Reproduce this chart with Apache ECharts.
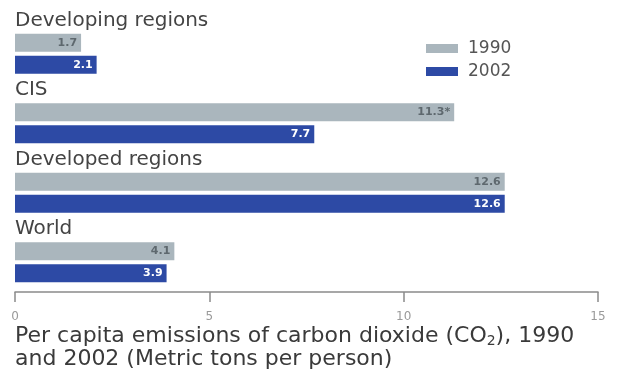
<!DOCTYPE html>
<html><head><meta charset="utf-8">
<script src="https://cdn.jsdelivr.net/npm/echarts@6/dist/echarts.min.js"></script>
<style>html,body{margin:0;padding:0;background:#fff}#c{width:641px;height:378px}</style>
</head><body><div id="c"></div>
<script>
const categories = ["Developing regions", "CIS", "Developed regions", "World"];
const values1990 = [1.7, 11.3, 12.6, 4.1];
const values2002 = [2.1, 7.7, 12.6, 3.9];
const notes1990 = ["", "*", "", ""];
const xTicks = [0, 5, 10, 15];

const chart = echarts.init(document.getElementById('c'));
const font = '"DejaVu Sans", sans-serif';
chart.setOption({
  animation: false,
  backgroundColor: '#fff',
  textStyle: { fontFamily: font },
  title: {
    left: 10, top: 320,
    text: 'Per capita emissions of carbon dioxide (CO{sub|2}), 1990\nand 2002 (Metric tons per person)',
    textStyle: {
      fontFamily: font, fontSize: 22, fontWeight: 'normal', color: '#3a3a3a', lineHeight: 23,
      rich: { sub: { fontFamily: font, fontSize: 14, color: '#3a3a3a', lineHeight: 23, padding: [10, 0, 0, 0] } }
    }
  },
  legend: {
    orient: 'vertical', left: 421, top: 35,
    itemWidth: 32, itemHeight: 9, itemGap: 6,
    icon: 'rect',
    textStyle: { fontFamily: font, fontSize: 17, color: '#555', padding: [0, 0, 0, 5] },
    data: ['1990', '2002']
  },
  grid: { left: 15, right: 43, top: 19, bottom: 81 },
  xAxis: {
    type: 'value', min: xTicks[0], max: xTicks[xTicks.length - 1], interval: 5,
    offset: -5,
    axisLine: { show: true, lineStyle: { color: '#8a8a8a', width: 1.5 } },
    axisTick: { show: true, length: 10, lineStyle: { color: '#8a8a8a', width: 1.5 } },
    axisLabel: { color: '#9a9a9a', fontSize: 12, margin: 19, fontFamily: font },
    splitLine: { show: false }
  },
  yAxis: {
    type: 'category', inverse: true, data: categories,
    axisLine: { show: false }, axisTick: { show: false },
    axisLabel: {
      inside: true, margin: 0, align: 'left', verticalAlign: 'middle',
      interval: 0, showMinLabel: true, showMaxLabel: true, hideOverlap: false,
      color: '#444', fontSize: 20, fontFamily: font, lineHeight: 22,
      formatter: v => v + '\n \n \n '
    }
  },
  series: [
    {
      name: '1990', type: 'bar', data: values1990,
      barWidth: 18, barGap: '22%',
      itemStyle: { color: '#aab6bd' },
      label: {
        show: true, position: 'insideRight', distance: 4,
        color: '#5e686e', fontSize: 11, fontWeight: 'bold', fontFamily: font,
        formatter: p => p.value + notes1990[p.dataIndex]
      }
    },
    {
      name: '2002', type: 'bar', data: values2002,
      barWidth: 18,
      itemStyle: { color: '#2d4aa5' },
      label: {
        show: true, position: 'insideRight', distance: 4,
        color: '#fff', fontSize: 11, fontWeight: 'bold', fontFamily: font,
        formatter: p => String(p.value)
      }
    }
  ]
});
</script></body></html>
